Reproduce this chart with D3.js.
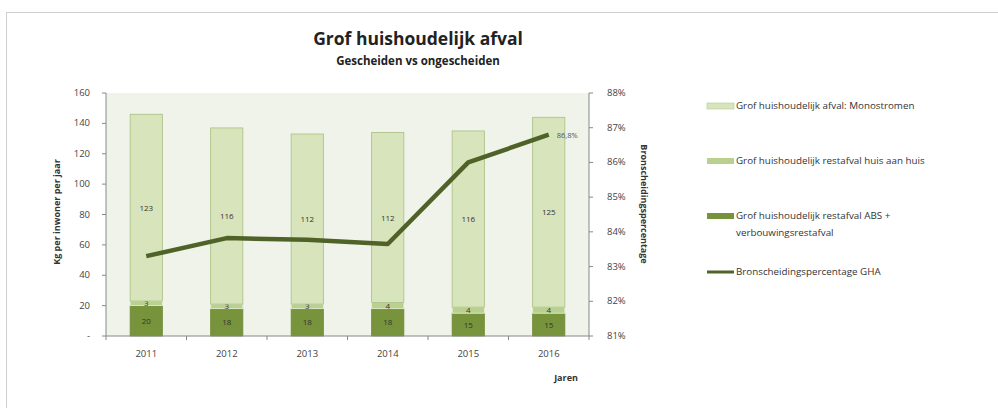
<!DOCTYPE html>
<html><head><meta charset="utf-8">
<script src="https://cdn.jsdelivr.net/npm/d3@7"></script>
<style>body{margin:0;background:#fff;} svg{display:block;font-family:"Open Sans",sans-serif;}</style>
</head><body>
<svg id="c" width="998" height="408"></svg>
<script>
const years = ["2011","2012","2013","2014","2015","2016"];
const restAbs = [20,18,18,18,15,15];
const restHuis = [3,3,3,4,4,4];
const mono = [123,116,112,112,116,125];
const pct = [83.3,83.82,83.77,83.65,86.0,86.8];
const leftTicks = [0,20,40,60,80,100,120,140,160];
const rightTicks = [81,82,83,84,85,86,87,88];
const seriesNames = ["Grof huishoudelijk afval: Monostromen","Grof huishoudelijk restafval huis aan huis","Grof huishoudelijk restafval ABS + verbouwingsrestafval","Bronscheidingspercentage GHA"];
const colors = {abs:"#77933c", huis:"#b9d08f", mono:"#d8e4bc", line:"#4f6228"};

const svg = d3.select("#c");
svg.append("rect").attr("x",6.5).attr("y",12.5).attr("width",1000).attr("height",500).attr("fill","#fff").attr("stroke","#cfcfcf");

const L=106, R=589, T=93, B=336;
const x = d3.scaleBand().domain(years).range([L,R]).paddingInner(0.6).paddingOuter(0.3);
const xo = d3.scaleBand().domain(years).range([L,R]);
const y = d3.scaleLinear().domain([0,160]).range([B,T]);
const y2 = d3.scaleLinear().domain([81,88]).range([B,T]);

svg.append("rect").attr("x",L).attr("y",T).attr("width",R-L).attr("height",B-T).attr("fill","#eff3e9");

// stacked bars
const rows = years.map((yr,i)=>({yr, abs:restAbs[i], huis:restHuis[i], mono:mono[i]}));
const stack = d3.stack().keys(["abs","huis","mono"])(rows);
const g = svg.append("g");
stack.forEach(layer=>{
  const k = layer.key;
  layer.forEach(d=>{
    g.append("rect").attr("x",x(d.data.yr)).attr("width",x.bandwidth())
     .attr("y",y(d[1])).attr("height",y(d[0])-y(d[1]))
     .attr("fill",colors[k]).attr("stroke", k==="mono"?"#a8bf80":(k==="huis"?"#e8efda":"#6d8a35")).attr("stroke-width",0.8);
    g.append("text").attr("x",x(d.data.yr)+x.bandwidth()/2).attr("y",(y(d[0])+y(d[1]))/2+3)
     .attr("text-anchor","middle").attr("font-size",8).attr("fill","#333")
     .text(d.data[k]);
  });
});

// axes
const ax = svg.append("g").attr("font-size",9.5).attr("fill","#444");
svg.append("line").attr("x1",L).attr("x2",L).attr("y1",T).attr("y2",B).attr("stroke","#888");
svg.append("line").attr("x1",R).attr("x2",R).attr("y1",T).attr("y2",B).attr("stroke","#888");
svg.append("line").attr("x1",L).attr("x2",R).attr("y1",B).attr("y2",B).attr("stroke","#888");
leftTicks.forEach(t=>{
  svg.append("line").attr("x1",L-4).attr("x2",L).attr("y1",y(t)).attr("y2",y(t)).attr("stroke","#888");
  ax.append("text").attr("x",L-16).attr("y",y(t)+3).attr("text-anchor","end").text(t===0?"-":t);
});
rightTicks.forEach(t=>{
  svg.append("line").attr("x1",R).attr("x2",R+4).attr("y1",y2(t)).attr("y2",y2(t)).attr("stroke","#888");
  ax.append("text").attr("x",R+18).attr("y",y2(t)+3).attr("text-anchor","start").text(t+"%");
});
years.forEach((yr,i)=>{
  svg.append("line").attr("x1",xo(yr)).attr("x2",xo(yr)).attr("y1",B).attr("y2",B+4).attr("stroke","#888");
  ax.append("text").attr("x",x(yr)+x.bandwidth()/2).attr("y",B+21).attr("text-anchor","middle").text(yr);
});
svg.append("line").attr("x1",R).attr("x2",R).attr("y1",B).attr("y2",B+4).attr("stroke","#888");

// line
const line = d3.line().x((d,i)=>x(years[i])+x.bandwidth()/2).y(d=>y2(d));
svg.append("path").datum(pct).attr("d",line).attr("fill","none").attr("stroke",colors.line).attr("stroke-width",4.5).attr("stroke-linejoin","round");
svg.append("text").attr("x",x(years[5])+x.bandwidth()/2+8).attr("y",y2(pct[5])+3).attr("font-size",7.5).attr("fill","#555").text(String(pct[5]).replace(".",",")+"%");

// titles
svg.append("text").attr("x",418).attr("y",45).attr("text-anchor","middle").attr("font-size",17.5).attr("font-weight","bold").attr("fill","#222").text("Grof huishoudelijk afval");
svg.append("text").attr("x",418).attr("y",65).attr("text-anchor","middle").attr("font-size",11.5).attr("font-weight","bold").attr("fill","#222").text("Gescheiden vs ongescheiden");
svg.append("text").attr("transform","translate(60,212) rotate(-90)").attr("text-anchor","middle").attr("font-size",9).attr("font-weight","bold").attr("fill","#333").text("Kg per inwoner per jaar");
svg.append("text").attr("transform","translate(641,204) rotate(90)").attr("text-anchor","middle").attr("font-size",9).attr("font-weight","bold").attr("fill","#333").text("Bronscheidingspercentage");
svg.append("text").attr("x",566).attr("y",381).attr("text-anchor","middle").attr("font-size",9).attr("font-weight","bold").attr("fill","#333").text("Jaren");

// legend
const lg = svg.append("g").attr("font-size",9.8).attr("fill","#333");
const legY = [107,162,217,273];
const legC = [colors.mono, colors.huis, colors.abs];
seriesNames.forEach((n,i)=>{
  if(i<3){
    lg.append("rect").attr("x",707).attr("y",legY[i]-4).attr("width",27).attr("height",6).attr("fill",legC[i]).attr("stroke",i===0?"#b5c98e":"none").attr("stroke-width",0.6);
  } else {
    lg.append("line").attr("x1",707).attr("x2",734).attr("y1",legY[i]-1).attr("y2",legY[i]-1).attr("stroke",colors.line).attr("stroke-width",3);
  }
  if(i===2){
    lg.append("text").attr("x",736).attr("y",legY[i]+2).text("Grof huishoudelijk restafval ABS +");
    lg.append("text").attr("x",736).attr("y",legY[i]+19).text("verbouwingsrestafval");
  } else {
    lg.append("text").attr("x",736).attr("y",legY[i]+2).text(n);
  }
});
</script>
</body></html>
